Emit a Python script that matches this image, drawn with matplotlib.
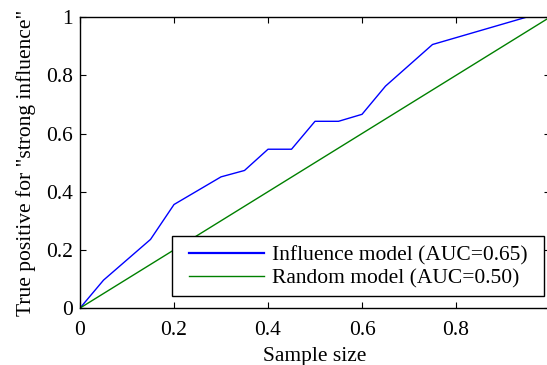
import matplotlib
matplotlib.use('Agg')
import matplotlib.pyplot as plt
from matplotlib.patches import Rectangle

# valeurs
sample_size = [0, 0.05, 0.15, 0.20, 0.30, 0.35, 0.40, 0.45, 0.50, 0.55, 0.60, 0.65, 0.75, 0.95, 1.0]
influence_tp = [0, 0.096, 0.236, 0.356, 0.451, 0.473, 0.546, 0.546, 0.642, 0.642, 0.666, 0.763, 0.906, 1.0, 1.0]
random_x = [0, 1.0]
random_tp = [0, 1.0]

labels = ['Influence model (AUC=0.65)', 'Random model (AUC=0.50)']
xticks = [0, 0.2, 0.4, 0.6, 0.8, 1]
yticks = [0, 0.2, 0.4, 0.6, 0.8, 1]

plt.rcParams['font.family'] = ['Liberation Serif', 'DejaVu Serif']
plt.rcParams['font.size'] = 15.5

fig = plt.figure(figsize=(5.47, 3.65), dpi=100)
ax = fig.add_axes([0.1463, 0.156, 0.8592, 0.797])

ax.plot(sample_size, influence_tp, color='#0000ff', lw=1.0, label=labels[0])
ax.plot(random_x, random_tp, color='#008000', lw=1.0, label=labels[1])

ax.set_xlim(0, 1)
ax.set_ylim(0, 1)
ax.set_xticks(xticks)
ax.set_xticklabels(['0', '0.2', '0.4', '0.6', '0.8', '1'])
ax.set_yticks(yticks)
ax.set_yticklabels(['0', '0.2', '0.4', '0.6', '0.8', '1'])
ax.tick_params(direction='in', top=True, right=True, length=4, width=0.8)
ax.tick_params(axis='x', pad=9)
ax.tick_params(axis='y', pad=5)
for s in ax.spines.values():
    s.set_linewidth(1.0)

ax.set_xlabel('Sample size', labelpad=5)
ax.set_ylabel('True positive for "strong influence"', labelpad=7)

# cadre de la légende dessiné à part (plus de marge horizontale que matplotlib)
ax.add_patch(Rectangle((0.196, 0.041), 0.791, 0.206, transform=ax.transAxes,
                       facecolor='white', edgecolor='black', lw=1.0, zorder=4))
leg = ax.legend(loc='lower left', bbox_to_anchor=(0.215, 0.041), frameon=False,
                handlelength=3.5, handletextpad=0.36,
                borderpad=0.35, labelspacing=0.15, borderaxespad=0)
leg.set_zorder(5)
leg.get_lines()[0].set_linewidth(1.6)

fig.savefig('out.png', dpi=100)
